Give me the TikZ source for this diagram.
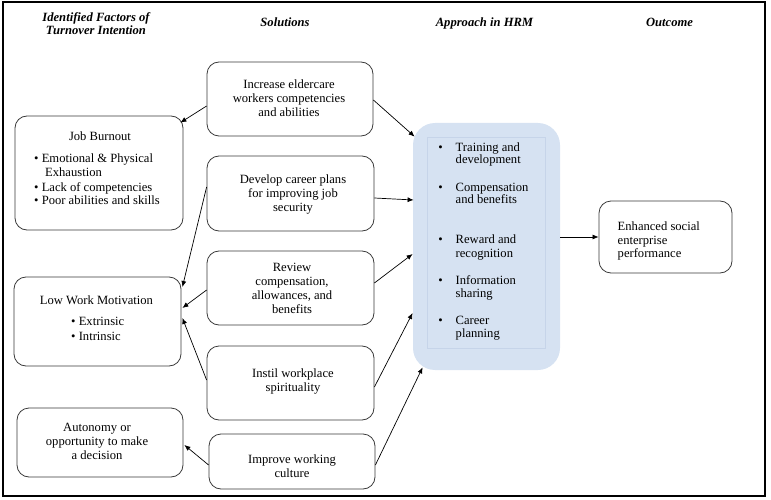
\documentclass[tikz,border=0pt]{standalone}
\usepackage{fontspec}
\setmainfont{Liberation Serif}
\usetikzlibrary{arrows.meta}
\definecolor{hrmblue}{HTML}{D6E2F2}
\definecolor{hrmline}{HTML}{C6D4E9}
\definecolor{boxline}{HTML}{3A3A3A}
\begin{document}
\begin{tikzpicture}[x=1pt,y=-1pt,
  box/.style={draw=boxline, line width=0.8pt, rounded corners=12pt, inner sep=0pt},
  txt/.style={font=\fontsize{12.6}{14}\selectfont, align=center, inner sep=0pt},
  ltxt/.style={font=\fontsize{12.6}{14}\selectfont, inner sep=0pt, anchor=base west},
  bul/.style={font=\fontsize{12.6}{14}\selectfont, inner sep=0pt, anchor=base},
  hd/.style={font=\fontsize{12.6}{13}\selectfont\bfseries\itshape, align=center, inner sep=0pt},
  arr/.style={-{Latex[length=6pt,width=5pt]}, line width=0.7pt}]
\useasboundingbox (0,0) rectangle (771,500);
\draw[line width=2pt] (2.5,2.5) rectangle (765,495.5);

% headers
\node[hd] (h1) at (96,23.5) {Identified Factors of\\Turnover Intention};
\node[hd, anchor=base] (h2) at (285,26.5) {Solutions};
\node[hd, anchor=base] (h3) at (484.5,26.5) {Approach in HRM};
\node[hd, anchor=base] (h4) at (669.5,26.5) {Outcome};

% solution boxes
\node[box, minimum width=166pt, minimum height=74pt] (inc) at (290,99) {};
\node[box, minimum width=167pt, minimum height=75pt] (dev) at (290.5,193.5) {};
\node[box, minimum width=167pt, minimum height=74pt] (rev) at (290.5,288) {};
\node[box, minimum width=167pt, minimum height=74pt] (ins) at (290.5,383) {};
\node[box, minimum width=166pt, minimum height=55pt] (imp) at (292,461.5) {};

\node[txt] (incT) at (289,98) {Increase eldercare\\workers competencies\\and abilities};
\node[txt] (devT) at (293,194) {Develop career plans\\for improving job\\security};
\node[txt] (revT) at (292,288) {Review\\compensation,\\allowances, and\\benefits};
\node[txt] (insT) at (293,381.5) {Instil workplace\\spirituality};
\node[txt] (impT) at (292,466.5) {Improve working\\culture};

% factor boxes
\node[box, minimum width=168pt, minimum height=114pt] (jb) at (99,173) {};
\node[box, minimum width=167pt, minimum height=89pt] (lwm) at (97.5,321.5) {};
\node[box, minimum width=166pt, minimum height=69pt] (aut) at (100,442.5) {};

\node[txt, anchor=base] (jbT) at (100,141) {Job Burnout};
\node[ltxt] (jb1) at (34,163) {• Emotional \& Physical};
\node[ltxt] (jb2) at (45,176.5) {Exhaustion};
\node[ltxt] (jb3) at (34,191) {• Lack of competencies};
\node[ltxt] (jb4) at (34,204) {• Poor abilities and skills};

\node[txt, anchor=base] (lwmT) at (96.5,304) {Low Work Motivation};
\node[ltxt] (lwm1) at (71,325) {• Extrinsic};
\node[ltxt] (lwm2) at (71,340) {• Intrinsic};

\node[txt] (autT) at (97,441.5) {Autonomy or\\opportunity to make\\a decision};

% HRM box
\node[box, draw=none, fill=hrmblue, rounded corners=22pt, minimum width=147pt, minimum height=247pt] (hrm) at (486.5,246.5) {};
\draw[hrmline, line width=0.5pt] (427,137) rectangle (545,348);
\foreach \n/\a/\b/\ya/\yb in {1/Training and/development/151/164,
  2/Compensation/and benefits/191/203,
  3/Reward and/recognition/243/257,
  4/Information/sharing/284/297,
  5/Career/planning/324/337}{
  \node[bul] (hb\n) at (440.5,\ya) {•};
  \node[ltxt] (ha\n) at (455.5,\ya) {\a};
  \node[ltxt] (hc\n) at (455.5,\yb) {\b};
}

% outcome
\node[box, minimum width=133pt, minimum height=72pt] (out) at (665.5,237) {};
\node[ltxt] (out1) at (617.5,230) {Enhanced social};
\node[ltxt] (out2) at (617.5,244) {enterprise};
\node[ltxt] (out3) at (617.5,257) {performance};

% arrows
\draw[arr] ([yshift=-7pt]inc.west) -- ([xshift=-3pt,yshift=-7pt]jb.north east);
\draw[arr] ([yshift=-1pt]inc.east) -- ([xshift=2pt,yshift=-14pt]hrm.north west);
\draw[arr] ([yshift=-4.5pt]dev.east) -- ([xshift=1pt,yshift=46.5pt]hrm.west);
\draw[arr] ([yshift=6.5pt]dev.west) -- ([xshift=1pt,yshift=34.5pt]lwm.east);
\draw[arr] ([yshift=-2pt]rev.west) -- ([xshift=1pt,yshift=13.5pt]lwm.east);
\draw[arr] ([yshift=5pt]rev.east) -- ([yshift=-7.5pt]hrm.west);
\draw[arr] ([yshift=3pt]ins.west) -- ([xshift=1pt,yshift=3.5pt]lwm.east);
\draw[arr] ([yshift=-4pt]ins.east) -- ([yshift=-66.5pt]hrm.west);
\draw[arr] ([yshift=-3.5pt]imp.west) -- ([xshift=1pt,yshift=-2.5pt]aut.east);
\draw[arr] ([yshift=-3.5pt]imp.east) -- ([xshift=10pt,yshift=3pt]hrm.south west);
\draw[arr] (hrm.east |- out.west) -- (out.west);
\end{tikzpicture}
\end{document}
